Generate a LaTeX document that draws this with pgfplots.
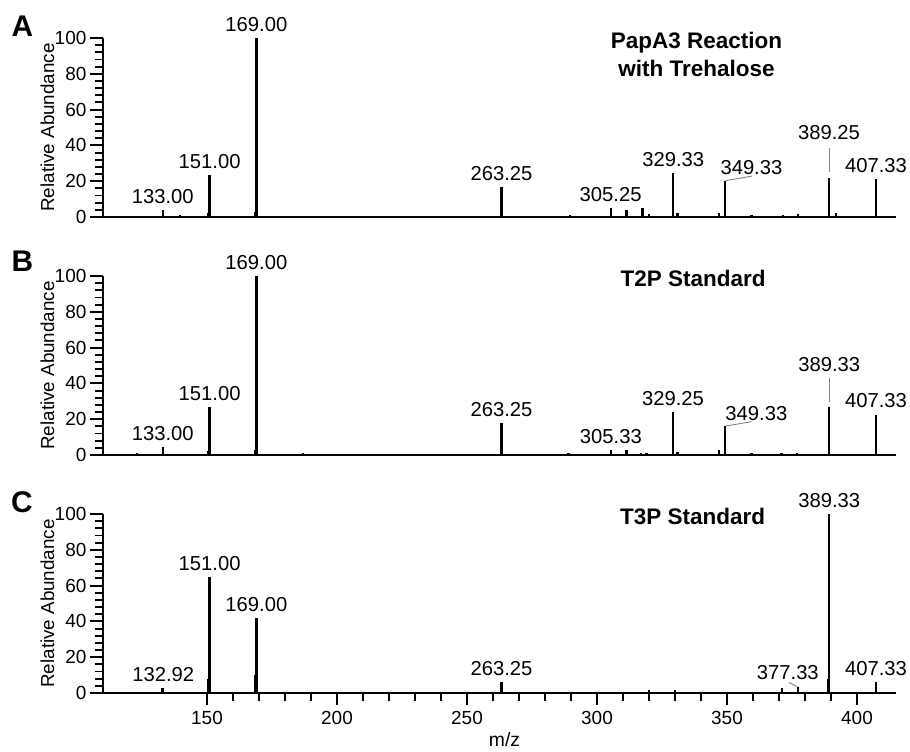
\documentclass[border=0pt]{standalone}
\usepackage{fontspec}
\setmainfont{Liberation Sans}
\usepackage{pgfplots}
\pgfplotsset{compat=1.18}

\pgfplotsset{
  spec/.style={
    scale only axis, width=15.86cm, height=3.58cm,
    xmin=110, xmax=415, ymin=0, ymax=100,
    axis x line=bottom, axis y line=left,
    axis line style={-, line width=1.5pt},
    tick align=outside, tick style={line width=1.1pt, black},
    major tick length=0.25cm, minor tick length=0.16cm,
    ytick={0,20,...,100}, minor y tick num=4,
    /pgf/number format/assume math mode=true,
    tick label style={font=\fontsize{10.8}{12}\selectfont},
    yticklabel style={inner sep=1pt, xshift=-0.04cm},
    clip=false,
  },
  pk/.style={ycomb, black, line width=1.3pt, mark=none},
}
\tikzset{
  lab/.style={anchor=south, inner sep=0pt, yshift=0.12cm, font=\fontsize{11.5}{13}\selectfont},
  labf/.style={anchor=south, inner sep=0pt, font=\fontsize{11.5}{13}\selectfont},
  ttl/.style={font=\fontsize{12.8}{16}\selectfont\bfseries, align=center},
  ylab/.style={rotate=90, anchor=center, font=\fontsize{10.7}{12}\selectfont},
}

\begin{document}
\begin{tikzpicture}
\path[use as bounding box] (0,0) rectangle (18.2,15.04);

% A
\begin{axis}[spec, at={(2.06cm,10.70cm)}, anchor=south west, xtick=\empty]
\addplot[pk] coordinates {
 (133,4) (139.5,1) (150.5,2) (151,23.5) (168.6,3) (169,100) (263.25,17) (289.5,1)
 (305.25,5) (311.3,4) (317.5,5) (320,1.5) (329.33,24.7) (331,2) (346.8,2.5)
 (349.33,20) (359.4,1.2) (371.5,1.2) (377.2,1.8) (389.25,21.6) (392,2.5) (407.33,21)};
\node[ylab] at ([xshift=-1.11cm]rel axis cs:0,0.5) {Relative Abundance};
\node[lab] at (axis cs:133,4) {133.00};
\node[lab] at (axis cs:151,23.5) {151.00};
\node[lab] at (axis cs:169,100) {169.00};
\node[lab] at (axis cs:263.25,17) {263.25};
\node[lab] at (axis cs:305.25,5) {305.25};
\node[lab] at (axis cs:329.33,24.7) {329.33};
\node[labf] at (axis cs:359.4,23.5) {349.33};
\draw[gray, line width=0.5pt] (axis cs:349.5,20.3) -- (axis cs:359.5,22.8);
\node[labf] at (axis cs:389.25,43) {389.25};
\draw[gray, line width=0.5pt] (axis cs:389.25,25.3) -- (axis cs:389.25,38.3);
\node[lab] at (axis cs:407.33,21) {407.33};
\node[ttl] at (axis cs:338.3,91) {PapA3 Reaction\\with Trehalose};
\end{axis}

% B
\begin{axis}[spec, at={(2.06cm,5.94cm)}, anchor=south west, xtick=\empty]
\addplot[pk] coordinates {
 (123,1) (133,4.6) (150.5,2) (151,27) (168.6,3) (169,100) (187,1) (263.25,17.6) (289,1)
 (305.33,3) (311.3,3) (317,1) (319,1) (329.25,24) (331,1.5) (347,3)
 (349.33,16) (359.4,1) (371,1) (377,1) (389.33,27) (407.33,22.6)};
\node[ylab] at ([xshift=-1.11cm]rel axis cs:0,0.5) {Relative Abundance};
\node[lab] at (axis cs:133,4.6) {133.00};
\node[lab] at (axis cs:151,27) {151.00};
\node[lab] at (axis cs:169,100) {169.00};
\node[lab] at (axis cs:263.25,17.6) {263.25};
\node[lab] at (axis cs:305.33,3) {305.33};
\node[lab] at (axis cs:329.25,24) {329.25};
\node[labf] at (axis cs:361.3,19.2) {349.33};
\draw[gray, line width=0.5pt] (axis cs:349.5,16.2) -- (axis cs:359.5,18.6);
\node[labf] at (axis cs:389.33,46.5) {389.33};
\draw[gray, line width=0.5pt] (axis cs:389.33,29.8) -- (axis cs:389.33,43.2);
\node[lab] at (axis cs:407.33,22.6) {407.33};
\node[ttl] at (axis cs:337,98.7) {T2P Standard};
\end{axis}

% C
\begin{axis}[spec, at={(2.06cm,1.18cm)}, anchor=south west,
  xtick={150,200,...,400}, minor x tick num=4,
  xlabel={m/z}, xlabel style={font=\fontsize{11}{12}\selectfont,
    at={(axis description cs:0.5,0)}, anchor=center, yshift=-0.93cm, xshift=0.1cm}]
\addplot[pk] coordinates {
 (132.92,2.6) (150.5,8) (151,64.8) (168.6,10) (169,42) (263.25,6) (320,1.5) (330,1.5)
 (371.2,2.6) (377.33,3.5) (389,8) (389.33,100) (407.33,6.3)};
\node[ylab] at ([xshift=-1.11cm]rel axis cs:0,0.5) {Relative Abundance};
\node[lab] at (axis cs:133.2,2.6) {132.92};
\node[lab] at (axis cs:151,64.8) {151.00};
\node[lab] at (axis cs:169,42) {169.00};
\node[lab] at (axis cs:263.25,6) {263.25};
\node[labf] at (axis cs:373.4,7.3) {377.33};
\draw[gray, line width=0.5pt] (axis cs:373.9,5.8) -- (axis cs:377.1,3.6);
\node[lab] at (axis cs:389.33,100) {389.33};
\node[lab] at (axis cs:407.33,6.3) {407.33};
\node[ttl] at (axis cs:336.8,98.5) {T3P Standard};
\end{axis}

\node[font=\fontsize{17}{18}\selectfont\bfseries] at (0.45,14.52) {A};
\node[font=\fontsize{17}{18}\selectfont\bfseries] at (0.45,9.82) {B};
\node[font=\fontsize{17}{18}\selectfont\bfseries] at (0.44,5.00) {C};
\end{tikzpicture}
\end{document}
